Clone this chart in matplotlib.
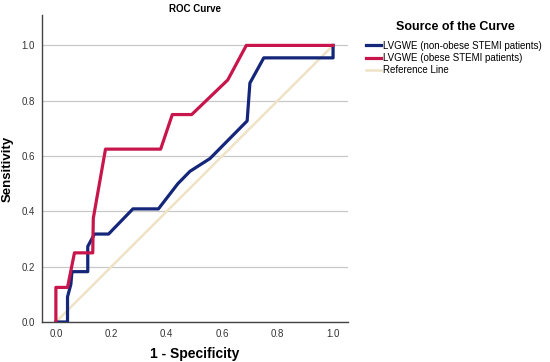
import matplotlib
matplotlib.use("Agg")
import matplotlib.pyplot as plt

plt.rcParams['font.family'] = ['Liberation Sans', 'DejaVu Sans']

# Data
fpr_nonobese = [0.0, 0.042, 0.042, 0.054, 0.058, 0.115, 0.115, 0.139, 0.19, 0.278, 0.37, 0.44, 0.484, 0.556, 0.69, 0.70, 0.75, 1.0, 1.0]
tpr_nonobese = [0.0, 0.0, 0.091, 0.136, 0.182, 0.182, 0.273, 0.318, 0.318, 0.409, 0.409, 0.5, 0.545, 0.591, 0.727, 0.864, 0.955, 0.955, 1.0]
fpr_obese = [0.0, 0.0, 0.042, 0.067, 0.133, 0.135, 0.179, 0.378, 0.42, 0.49, 0.62, 0.687, 1.0]
tpr_obese = [0.0, 0.125, 0.125, 0.25, 0.25, 0.375, 0.625, 0.625, 0.75, 0.75, 0.875, 1.0, 1.0]
ref_x = [0.0, 1.0]
ref_y = [0.0, 1.0]
labels = ["LVGWE (non-obese STEMI patients)", "LVGWE (obese STEMI patients)", "Reference Line"]
ticks = [0.0, 0.2, 0.4, 0.6, 0.8, 1.0]

fig = plt.figure(figsize=(5.5, 3.62), dpi=100)
ax = fig.add_axes([0.0764, 0.1105, 0.5564, 0.8481])

ax.plot(ref_x, ref_y, color="#EFE3C6", lw=1.8, label=labels[2], zorder=2)
ax.plot(fpr_nonobese, tpr_nonobese, color="#14267A", lw=2.3, label=labels[0], zorder=3)
ax.plot(fpr_obese, tpr_obese, color="#C8164C", lw=2.3, label=labels[1], zorder=4)

ax.set_xlim(-0.05, 1.054)
ax.set_ylim(0.0, 1.11)
ax.set_xticks(ticks)
ax.set_yticks(ticks)
ax.set_xticklabels([f"{t:.1f}" for t in ticks])
ax.set_yticklabels([f"{t:.1f}" for t in ticks])
ax.tick_params(length=0, labelsize=7, colors="#333333", pad=5)
ax.yaxis.grid(True, color="#C8C8C8", lw=0.9)
ax.set_axisbelow(True)
for s in ["top", "right"]:
    ax.spines[s].set_visible(False)
for s in ["left", "bottom"]:
    ax.spines[s].set_color("#444444")
    ax.spines[s].set_linewidth(1.0)

ax.set_title("ROC Curve", fontsize=7, fontweight="bold", pad=2)
ax.set_xlabel("1 - Specificity", fontsize=10, fontweight="bold", labelpad=6)
ax.set_ylabel("Sensitivity", fontsize=9.5, fontweight="bold", labelpad=6)

fig.text(0.828, 0.925, "Source of the Curve", fontsize=9, fontweight="bold",
         ha="center", va="center")

handles, lbls = ax.get_legend_handles_labels()
order = [1, 2, 0]
leg = fig.legend([handles[i] for i in order], [lbls[i] for i in order],
                 loc="upper left", bbox_to_anchor=(0.665, 0.888),
                 frameon=False, fontsize=7,
                 handlelength=1.6, handletextpad=0.2, labelspacing=0.25,
                 borderaxespad=0, borderpad=0)

fig.savefig("out.png", dpi=100)
